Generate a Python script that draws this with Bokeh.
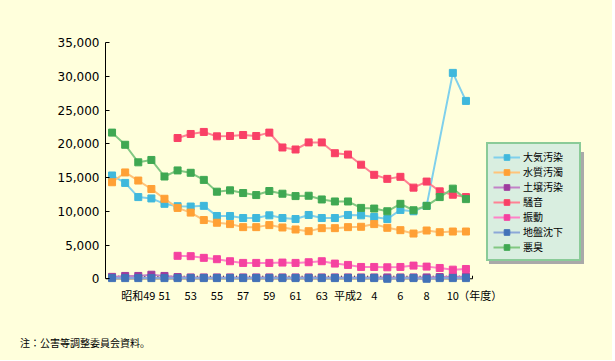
from bokeh.plotting import figure
from bokeh.models import (Range1d, FixedTicker, NumeralTickFormatter, Legend,
                          LegendItem, ColumnDataSource, Div)
from bokeh.layouts import column
from bokeh.embed import file_html
from bokeh.resources import INLINE

# fiscal years 昭和47 (1972) .. 平成11 (1999), as positions 0..27
years = list(range(28))
tick_pos = [2, 4, 6, 8, 10, 12, 14, 16, 18, 20, 22, 24, 26]
tick_labels = ["昭和49", "51", "53", "55", "57", "59", "61", "63",
               "平成2", "4", "6", "8", "10"]
unit_label = "（年度）"
note_text = "注：公害等調整委員会資料。"

taiki = [15300, 14200, 12100, 11900, 11100, 10750, 10700, 10800, 9300, 9300,
         9000, 9000, 9400, 9000, 8850, 9450, 9000, 9000, 9450, 9400,
         9150, 8850, 10200, 10000, 10800, None, 30500, 26350]
suishitsu = [14300, 15750, 14550, 13300, 11850, 10500, 9800, 8700, 8300, 8100,
             7650, 7650, 7950, 7600, 7300, 7050, 7500, 7500, 7650, 7700,
             8100, 7550, 7200, 6700, 7150, 6900, 7000, 7000]
dojou = [280, 420, 420, 600, 420, 250, 200, 200, 200, 200,
         200, 200, 200, 200, 200, 200, 200, 200, 200, 200,
         200, 200, 200, 200, 200, 250, 300, 300]
souon = [None, None, None, None, None, 20850, 21450, 21750, 21100, 21150,
         21300, 21150, 21650, 19450, 19150, 20200, 20200, 18600, 18400, 16900,
         15400, 14800, 15100, 13500, 14400, 12950, 12450, 12100]
shindou = [None, None, None, None, None, 3400, 3350, 3100, 2900, 2600,
           2350, 2350, 2350, 2400, 2350, 2450, 2600, 2250, 2050, 1750,
           1750, 1700, 1750, 1950, 1800, 1600, 1350, 1450]
chiban = [100, 100, 100, 100, 100, 100, 100, 100, 100, 100,
          100, 100, 100, 100, 100, 100, 100, 100, 100, 100,
          100, 0, 100, 100, 0, 100, 100, 100]
akushuu = [21650, 19850, 17250, 17600, 15150, 16050, 15700, 14650, 12900, 13100,
           12700, 12400, 13000, 12600, 12250, 12300, 11750, 11450, 11450, 10500,
           10400, 10000, 11100, 10150, 10800, 12100, 13350, 11800]

series = [
    ("大気汚染", taiki, "#7FD0EC", "#3FB8DC"),
    ("水質汚濁", suishitsu, "#FFC47A", "#FFA035"),
    ("土壌汚染", dojou, "#C282C8", "#9E3C9E"),
    ("騒音", souon, "#FF8294", "#F94066"),
    ("振動", shindou, "#FF82C8", "#F542A0"),
    ("地盤沈下", chiban, "#8CA8D8", "#4272B8"),
    ("悪臭", akushuu, "#82C882", "#3FA852"),
]

BG = "#FFFFDC"
W = 612
LEFT, TOP, RIGHT, BOTTOM = 105, 42, 12, 30
FRAME_H = 241
H = TOP + FRAME_H + BOTTOM
NOTE_H = 360 - H
DATA_W = 367                      # pixel width of the 28 yearly slots
frame_w = W - LEFT - RIGHT
x_end = -0.5 + len(years) * frame_w / DATA_W

p = figure(width=W, height=H, output_backend="svg", toolbar_location=None,
           x_range=Range1d(-0.5, x_end), y_range=Range1d(-700, 35000),
           min_border_left=LEFT, min_border_right=RIGHT, min_border_top=TOP,
           min_border_bottom=BOTTOM, background_fill_color=BG,
           border_fill_color=BG, outline_line_color=None)
p.grid.visible = False

# y axis
p.yaxis.ticker = FixedTicker(ticks=[0, 5000, 10000, 15000, 20000, 25000, 30000, 35000])
p.yaxis.formatter = NumeralTickFormatter(format="0,0")
p.yaxis.bounds = (0, 35000)
p.yaxis.major_tick_in = 4
p.yaxis.major_tick_out = 0
p.yaxis.minor_tick_line_color = None
p.yaxis.major_label_standoff = 6
p.yaxis.major_label_text_font = "DejaVu Sans"
p.yaxis.major_label_text_font_size = "12px"
p.yaxis.major_label_text_color = "black"
p.yaxis.axis_line_color = "black"

# x axis: year labels plus the unit label just past the last slot
unit_pos = years[-1] + 1.1
p.xaxis.ticker = FixedTicker(ticks=tick_pos + [unit_pos])
overrides = {t: l for t, l in zip(tick_pos, tick_labels)}
overrides[unit_pos] = unit_label
p.xaxis.major_label_overrides = overrides
p.xaxis.axis_line_color = None
p.xaxis.major_tick_line_color = None
p.xaxis.minor_tick_line_color = None
p.xaxis.major_label_standoff = -3
p.xaxis.major_label_text_font = "Noto Sans CJK JP"
p.xaxis.major_label_text_font_size = "11px"
p.xaxis.major_label_text_color = "black"

# baseline at zero across the yearly slots, with small slot-boundary ticks
x_lo, x_hi = years[0] - 0.5, years[-1] + 0.5
p.segment(x0=[x_lo], y0=[0], x1=[x_hi], y1=[0], line_color="black",
          line_width=1, level="underlay")
bounds_x = [v + 0.5 for v in years]
p.segment(x0=bounds_x, y0=[0] * len(bounds_x), x1=bounds_x,
          y1=[450] * len(bounds_x), line_color="black", line_width=1,
          level="underlay")

items, shadow_items = [], []
for name, vals, lc, mc in series:
    xs = [x for x, v in zip(years, vals) if v is not None]
    ys = [v for v in vals if v is not None]
    src = ColumnDataSource(dict(x=xs, y=ys))
    lr = p.line("x", "y", source=src, line_color=lc, line_width=2)
    mr = p.scatter("x", "y", source=src, marker="square", size=7,
                   fill_color=mc, line_color=mc)
    items.append(LegendItem(label=name, renderers=[lr, mr]))
    shadow_items.append(LegendItem(label=" ", renderers=[lr, mr]))

legend_kw = dict(label_text_font="Noto Sans CJK JP", label_text_font_size="10px",
                 label_height=14, glyph_height=14, glyph_width=27, spacing=0,
                 padding=5, label_standoff=3, label_width=51, margin=0)

shadow = Legend(items=shadow_items, location=(384, 19),
                background_fill_color="#A9A9A9", background_fill_alpha=1,
                border_line_color="#A9A9A9", border_line_width=2,
                label_text_color="#A9A9A9", **legend_kw)
p.add_layout(shadow, "center")

legend = Legend(items=items, location=(381, 22),
                background_fill_color="#D9EEE0", background_fill_alpha=1,
                border_line_color="#3CA850", border_line_width=2,
                label_text_color="black", **legend_kw)
p.add_layout(legend, "center")

note = Div(text=note_text, width=W, height=NOTE_H, margin=(0, 0, 0, 0),
           styles={"background-color": BG, "box-sizing": "border-box",
                   "padding-top": str(343 - 7 - H) + "px", "padding-left": "20px",
                   "font-family": "'Noto Sans CJK JP'", "font-size": "10px",
                   "line-height": "14px", "color": "black"})

layout = column(p, note, spacing=0, styles={"background-color": BG})

open("out.html", "w").write(file_html(layout, INLINE))
